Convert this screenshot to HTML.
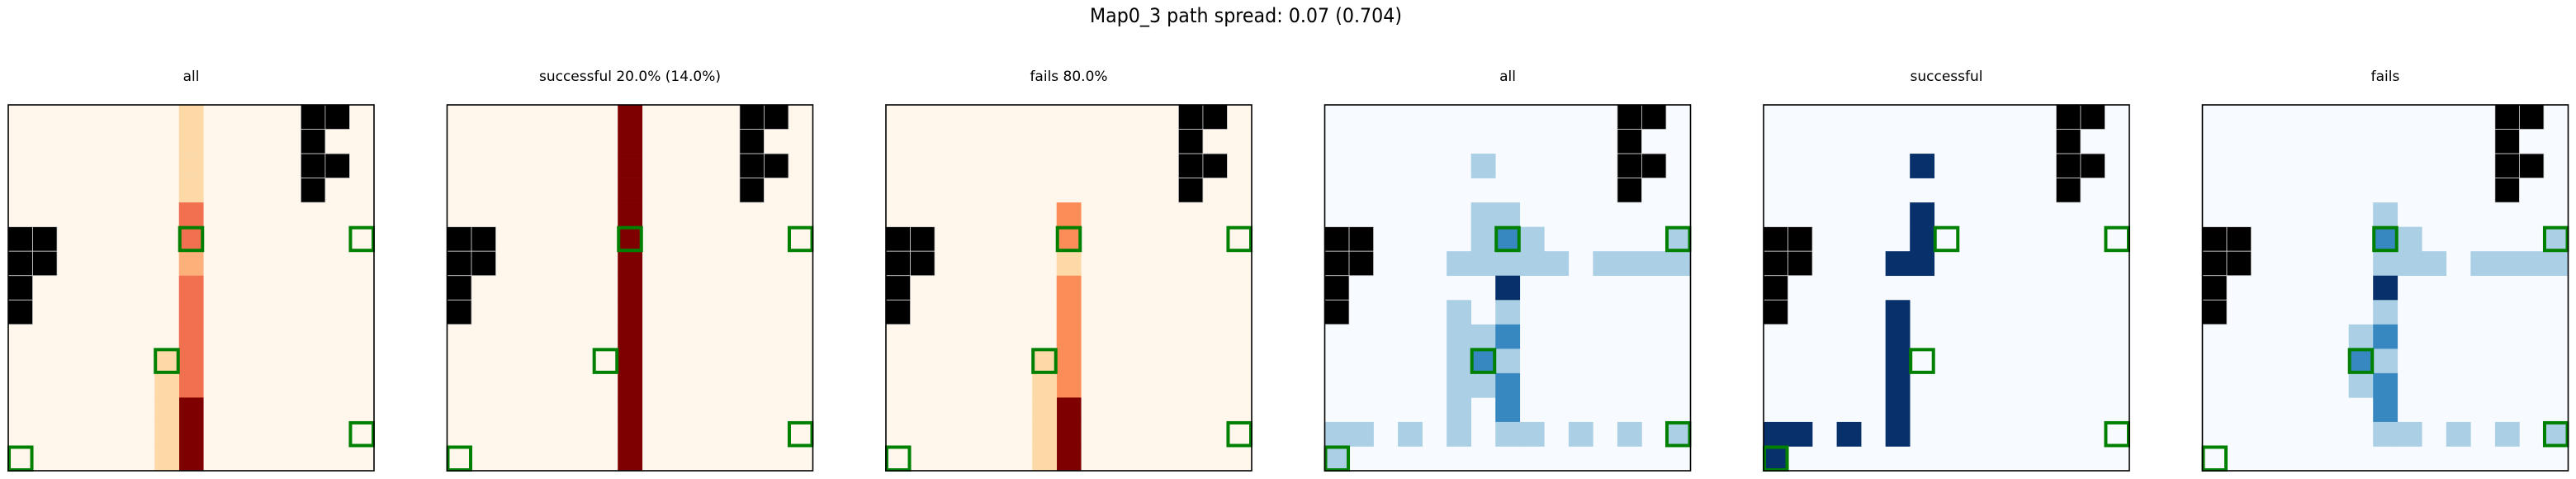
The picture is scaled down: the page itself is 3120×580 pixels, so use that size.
<!DOCTYPE html>
<html><head><meta charset="utf-8"><style>
html,body{margin:0;padding:0;background:#fff;width:3120px;height:580px;overflow:hidden}
svg{display:block}
text{font-family:"DejaVu Sans","Liberation Sans",sans-serif;fill:#000}
</style></head><body>
<svg id="fig" width="3120" height="580" viewBox="0 0 3120 580" xmlns="http://www.w3.org/2000/svg">
<text x="1509" y="27" text-anchor="middle" font-size="24" textLength="378" lengthAdjust="spacingAndGlyphs">Map0_3 path spread: 0.07 (0.704)</text>
</svg>
<script>
const panelTitles = ["all", "successful 20.0% (14.0%)", "fails 80.0%", "all", "successful", "fails"];
const panelCmaps = ["orrd", "orrd", "orrd", "blues", "blues", "blues"];
const gridSize = 15;
const walls = [[0,12],[0,13],[1,12],[2,12],[2,13],[3,12],[5,0],[5,1],[6,0],[6,1],[7,0],[8,0]];
const goals = [[5,7],[5,14],[10,6],[13,14],[14,0]];
// cells: [row, col, level]
const panel1Cells = [[0,7,1],[1,7,1],[2,7,1],[3,7,1],[4,7,3],[5,7,3],[6,7,2],[7,7,3],[8,7,3],[9,7,3],[10,7,3],[11,7,3],[12,7,5],[13,7,5],[14,7,5],[10,6,1],[11,6,1],[12,6,1],[13,6,1],[14,6,1]];
const panel2Cells = [[0,7,5],[1,7,5],[2,7,5],[3,7,5],[4,7,5],[5,7,5],[6,7,5],[7,7,5],[8,7,5],[9,7,5],[10,7,5],[11,7,5],[12,7,5],[13,7,5],[14,7,5]];
const panel3Cells = [[4,7,4],[5,7,4],[6,7,1],[7,7,4],[8,7,4],[9,7,4],[10,7,4],[11,7,4],[12,7,5],[13,7,5],[14,7,5],[10,6,1],[11,6,1],[12,6,1],[13,6,1],[14,6,1]];
const panel4Cells = [[2,6,1],[4,6,1],[4,7,1],[5,6,1],[5,7,2],[5,8,1],[5,14,1],[6,5,1],[6,6,1],[6,7,1],[6,8,1],[6,9,1],[6,11,1],[6,12,1],[6,13,1],[6,14,1],[7,7,3],[8,5,1],[8,7,1],[9,5,1],[9,6,1],[9,7,2],[10,5,1],[10,6,2],[10,7,1],[11,5,1],[11,6,1],[11,7,2],[12,5,1],[12,7,2],[13,0,1],[13,1,1],[13,3,1],[13,5,1],[13,7,1],[13,8,1],[13,10,1],[13,12,1],[13,14,1],[14,0,1]];
const panel5Cells = [[2,6,3],[4,6,3],[5,6,3],[6,5,3],[6,6,3],[8,5,3],[9,5,3],[10,5,3],[11,5,3],[12,5,3],[13,5,3],[13,0,3],[13,1,3],[13,3,3],[14,0,3]];
const panel6Cells = [[4,7,1],[5,7,2],[5,8,1],[5,14,1],[6,7,1],[6,8,1],[6,9,1],[6,11,1],[6,12,1],[6,13,1],[6,14,1],[7,7,3],[8,7,1],[9,6,1],[9,7,2],[10,6,2],[10,7,1],[11,6,1],[11,7,2],[12,7,2],[13,7,1],[13,8,1],[13,10,1],[13,12,1],[13,14,1]];
const allPanelCells = [panel1Cells, panel2Cells, panel3Cells, panel4Cells, panel5Cells, panel6Cells];

const palettes = {
  orrd: ["#fff7ec", "#fdd9a8", "#fdb07a", "#f0704f", "#fc8d59", "#7f0000"],
  blues: ["#f7fbff", "#abcfe5", "#3787c0", "#08306b"]
};
const NS = "http://www.w3.org/2000/svg";
const svg = document.getElementById("fig");
const panelLeft0 = 10, panelStep = 531.5, panelTop = 127, panelSize = 443;
const cell = panelSize / gridSize;
function xScale(p, col) { return panelLeft0 + p * panelStep + col * cell; }
function yScale(row) { return panelTop + row * cell; }
function mk(tag, attrs) { const e = document.createElementNS(NS, tag); for (const k in attrs) e.setAttribute(k, attrs[k]); return e; }

allPanelCells.forEach((cells, p) => {
  const pal = palettes[panelCmaps[p]];
  const g = mk("g", {});
  
  
  svg.appendChild(g);
  const t = mk("text", {x: xScale(p, 7.5), y: 98, "text-anchor": "middle", "font-size": "17"});
  
  
  t.textContent = panelTitles[p];
  g.appendChild(t);
  const bg = mk("rect", {x: xScale(p, 0), y: yScale(0), width: panelSize, height: panelSize, fill: pal[0]});
  
  
  g.appendChild(bg);
  cells.forEach(c => {
    const r = mk("rect", {x: xScale(p, c[1]), y: yScale(c[0]), width: cell + 0.3, height: cell + 0.3, fill: pal[c[2]]});
    
    
    g.appendChild(r);
  });
  walls.forEach(w => {
    const r = mk("rect", {x: xScale(p, w[1]), y: yScale(w[0]), width: cell, height: cell, fill: "#000", stroke: "#cfcfcf", "stroke-width": "0.8"});
    
    
    g.appendChild(r);
  });
  goals.forEach(q => {
    const r = mk("rect", {x: xScale(p, q[1]) + 1, y: yScale(q[0]) + 1, width: cell - 2, height: cell - 2, fill: "none", stroke: "#008000", "stroke-width": "4"});
    
    
    g.appendChild(r);
  });
  const fr = mk("rect", {x: xScale(p, 0), y: yScale(0), width: panelSize, height: panelSize, fill: "none", stroke: "#000", "stroke-width": "1.6"});
  
  
  g.appendChild(fr);
});
</script>
</body></html>
